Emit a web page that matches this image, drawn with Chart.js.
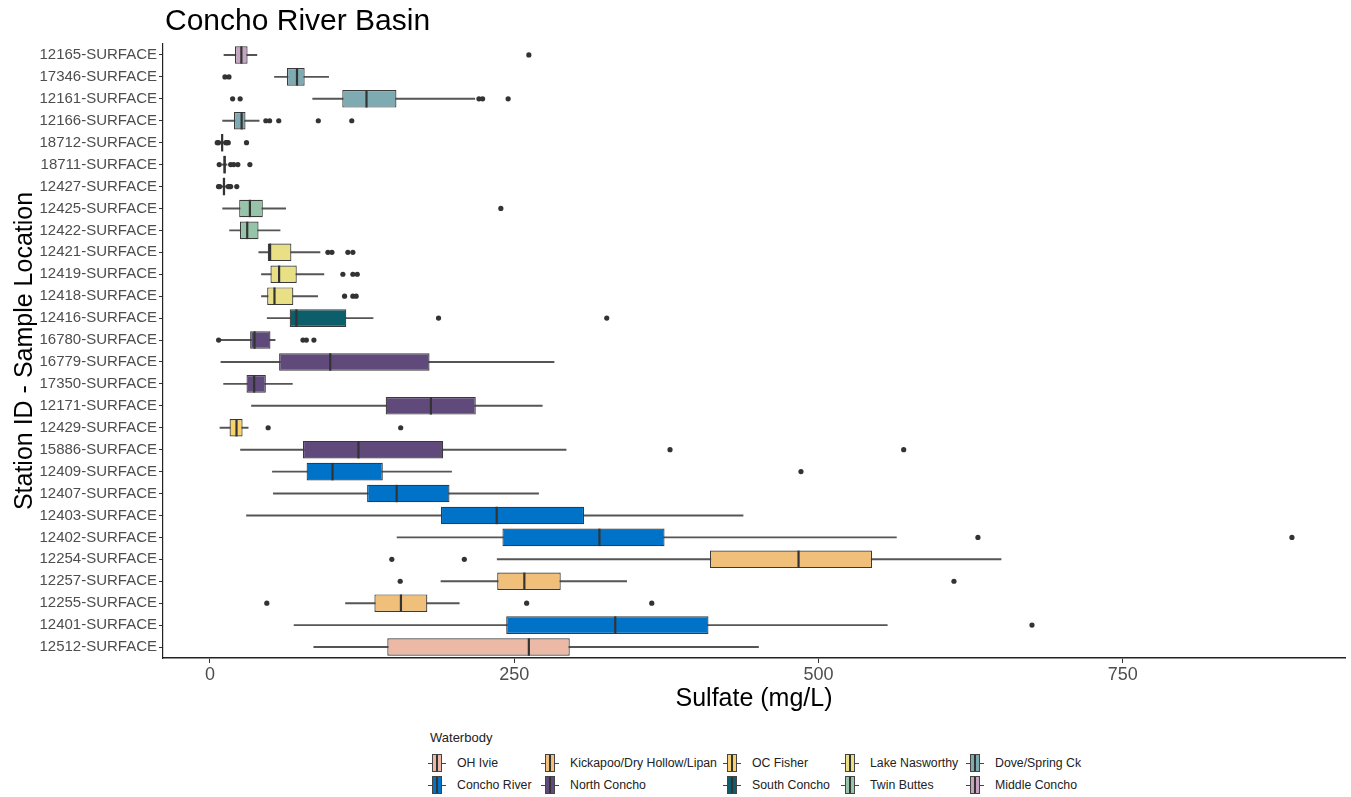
<!DOCTYPE html>
<html>
<head>
<meta charset="utf-8">
<script src="https://cdn.jsdelivr.net/npm/chart.js@4.4.1/dist/chart.umd.min.js"></script>
<style>
  body { margin: 0; background: #fff; font-family: Arial, "Liberation Sans", sans-serif; }
  #wrap { position: relative; width: 1351px; height: 797px; overflow: hidden; }
  #title { position: absolute; left: 165px; top: 5px; font-size: 30px; line-height: 30px; color: #000; }
  #chartBox { position: absolute; left: 0; top: 0; width: 1351px; height: 722px; }
  .lg-title { position: absolute; left: 430px; top: 730px; font-size: 13px; color: #222; }
  .lg-item { position: absolute; height: 20px; display: flex; align-items: center; font-size: 12.3px; color: #222; white-space: nowrap; }
  .lg-icon { position: relative; width: 20px; height: 18px; margin-right: 10px; }
  .lg-icon .wh { position: absolute; left: 1px; right: 1px; top: 8.5px; height: 1px; background: #444; }
  .lg-icon .bx { position: absolute; left: 5px; width: 8px; top: 0; height: 16px; border: 1px solid #444; }
  .lg-icon .md { position: absolute; left: 9px; width: 2px; top: 1px; height: 16px; background: #333; }
</style>
</head>
<body>
<div id="wrap">
  <div id="chartBox"><canvas id="boxChart"></canvas></div>
  <div id="title">Concho River Basin</div>
  <div class="lg-title">Waterbody</div>
  <div id="legend"></div>
</div>
<script>
// ---- data ----
const stations = ['12165-SURFACE','17346-SURFACE','12161-SURFACE','12166-SURFACE','18712-SURFACE','18711-SURFACE','12427-SURFACE',
  '12425-SURFACE','12422-SURFACE','12421-SURFACE','12419-SURFACE','12418-SURFACE','12416-SURFACE','16780-SURFACE',
  '16779-SURFACE','17350-SURFACE','12171-SURFACE','12429-SURFACE','15886-SURFACE','12409-SURFACE','12407-SURFACE',
  '12403-SURFACE','12402-SURFACE','12254-SURFACE','12257-SURFACE','12255-SURFACE','12401-SURFACE','12512-SURFACE'];
const waterbody = ['Middle Concho','Dove/Spring Ck','Dove/Spring Ck','Dove/Spring Ck','South Concho','South Concho','South Concho',
  'Twin Buttes','Twin Buttes','Lake Nasworthy','Lake Nasworthy','Lake Nasworthy','South Concho','North Concho',
  'North Concho','North Concho','North Concho','OC Fisher','North Concho','Concho River','Concho River',
  'Concho River','Concho River','Kickapoo/Dry Hollow/Lipan','Kickapoo/Dry Hollow/Lipan','Kickapoo/Dry Hollow/Lipan','Concho River','OH Ivie'];
const whiskerLo = [11.5, 53, 84.4, 10.4, 8, 10, 9, 10.4, 16.1, 40.1, 42.3, 42.3, 47, 9, 9, 11.2, 34.1, 8.2, 25.1, 51.3, 52.1, 30, 153.7, 236, 189.8, 111.4, 69.1, 85.3];
const q1 = [20.5, 63.3, 108.7, 19.7, 9.5, 11, 10.5, 24, 24.6, 47.5, 49.7, 47, 65.5, 33, 56.8, 30, 144.4, 16.1, 76.4, 79.4, 129.1, 189.7, 240.3, 410.8, 236, 135.1, 243.4, 145.7];
const median = [25.8, 71.5, 128.6, 26, 10, 12, 11.5, 32.8, 30.6, 49.4, 56.8, 53, 71, 36.6, 98.8, 36.3, 181.5, 21.8, 122, 100.7, 153.4, 235.6, 320, 483.6, 258.3, 156.9, 333, 262];
const q3 = [30.9, 77.8, 153.2, 29.2, 10.5, 13, 12.5, 43.4, 39.9, 66.9, 71.3, 68.5, 112, 49.7, 180.4, 45.9, 218.4, 26.8, 191.6, 142, 196.8, 307.4, 373.5, 544, 288.2, 178.6, 409.6, 295.6];
const whiskerHi = [38.5, 97.5, 217.6, 40.4, 12, 14, 14, 62.2, 57.6, 90.4, 93.6, 88.5, 134, 53.5, 282.7, 67.7, 273, 31.4, 292.6, 198.5, 270, 438, 564, 650, 342.4, 204.8, 556.5, 450.7];
const outliers = [[262], [12.3, 15.6], [18.6, 24.8, 221, 224, 245], [45.9, 49, 56.5, 89, 116.5],
  [6, 7, 13, 14, 15, 30], [7.6, 17, 19.5, 22.9, 32.8], [7, 8, 15, 16, 17, 22], [239], [],
  [96.9, 100.2, 113.3, 117.4], [109.2, 117.4, 121], [110.6, 117.4, 120.1], [187.8, 326], [7.1, 76.4, 79.2, 85.4],
  [], [], [], [47.8, 156.7], [378, 570], [485.6], [], [], [631, 889], [149.4, 209], [156.3, 611.3],
  [46.7, 260.2, 363], [675.4], []];

// legend order (ggplot fills columns first)
const legendNames = ['OH Ivie','Concho River','Kickapoo/Dry Hollow/Lipan','North Concho','OC Fisher','South Concho',
  'Lake Nasworthy','Twin Buttes','Dove/Spring Ck','Middle Concho'];
const waterColors = {
  'OH Ivie': '#ebb9a6', 'Concho River': '#0073c8', 'Kickapoo/Dry Hollow/Lipan': '#f0bf7a', 'North Concho': '#5f4a7b',
  'OC Fisher': '#f7d16b', 'South Concho': '#0c5e6b', 'Lake Nasworthy': '#e9e086', 'Twin Buttes': '#96c4a8',
  'Dove/Spring Ck': '#7eaab2', 'Middle Concho': '#c5a4c2'
};
const xTicks = [0, 250, 500, 750];

// ---- datasets ----
const outlierPts = [];
stations.forEach((s, i) => outliers[i].forEach(v => outlierPts.push({ x: v, y: s })));

const FONT = 'Arial, "Liberation Sans"';
const ctx = document.getElementById('boxChart').getContext('2d');
new Chart(ctx, {
  type: 'bar',
  data: {
    labels: stations,
    datasets: [
      { type: 'scatter', data: stations.map((s, i) => ({ x: median[i], y: s })), pointStyle: 'line', rotation: 90,
        pointRadius: 8.7, borderColor: '#333333', borderWidth: 2.2, order: 0 },
      { type: 'scatter', data: outlierPts, pointRadius: 2.6, backgroundColor: '#333333', borderWidth: 0, order: 0 },
      { data: stations.map((s, i) => [q1[i], q3[i]]), backgroundColor: waterbody.map(w => waterColors[w]),
        borderColor: '#3a3a3a', borderWidth: 1.2, borderSkipped: false, barPercentage: 0.8, categoryPercentage: 1,
        grouped: false, order: 1 },
      { data: stations.map((s, i) => [whiskerLo[i], whiskerHi[i]]), backgroundColor: '#555555', barThickness: 1.3,
        grouped: false, order: 2 }
    ]
  },
  options: {
    indexAxis: 'y',
    responsive: true,
    maintainAspectRatio: false,
    animation: false,
    layout: { autoPadding: false, padding: { top: 44, right: 6, left: 0, bottom: 0 } },
    plugins: { legend: { display: false }, tooltip: { enabled: false } },
    scales: {
      x: {
        type: 'linear', min: -38.6, max: 932.6,
        afterBuildTicks: s => { s.ticks = xTicks.map(v => ({ value: v })); },
        afterFit: s => { s.height = 64; s.paddingLeft = 0; s.paddingRight = 0; },
        grid: { display: true, drawOnChartArea: false, drawTicks: true, tickLength: 5, color: '#333333' },
        border: { display: true, color: '#222222', width: 1.6 },
        ticks: { color: '#4d4d4d', font: { family: FONT, size: 18 }, padding: 1 },
        title: { display: true, text: 'Sulfate (mg/L)', color: '#000', font: { family: FONT, size: 25 },
                 padding: { top: 0, bottom: 8 } }
      },
      y: {
        type: 'category', offset: true,
        afterFit: s => { s.width = 163; },
        grid: { display: true, offset: false, drawOnChartArea: false, drawTicks: true, tickLength: 4, color: '#333333' },
        border: { display: true, color: '#222222', width: 1.2 },
        ticks: { color: '#4d4d4d', font: { family: FONT, size: 15 }, padding: 2, autoSkip: false },
        title: { display: true, text: 'Station ID - Sample Location', color: '#000', font: { family: FONT, size: 25 },
                 padding: { top: 10, bottom: 0 } }
      }
    }
  }
});

// ---- ggplot-style legend (2 rows, column-major) ----
const lgCols = [427, 540, 722, 840, 965];
const lgRows = [753, 775];
const lg = document.getElementById('legend');
legendNames.forEach((name, k) => {
  const col = Math.floor(k / 2), row = k % 2;
  const item = document.createElement('div');
  item.className = 'lg-item';
  item.style.left = lgCols[col] + 'px';
  item.style.top = lgRows[row] + 'px';
  item.innerHTML = '<div class="lg-icon"><div class="wh"></div><div class="bx" style="background:' + waterColors[name] +
    '"></div><div class="md"></div></div><span>' + name + '</span>';
  lg.appendChild(item);
});
</script>
</body>
</html>
